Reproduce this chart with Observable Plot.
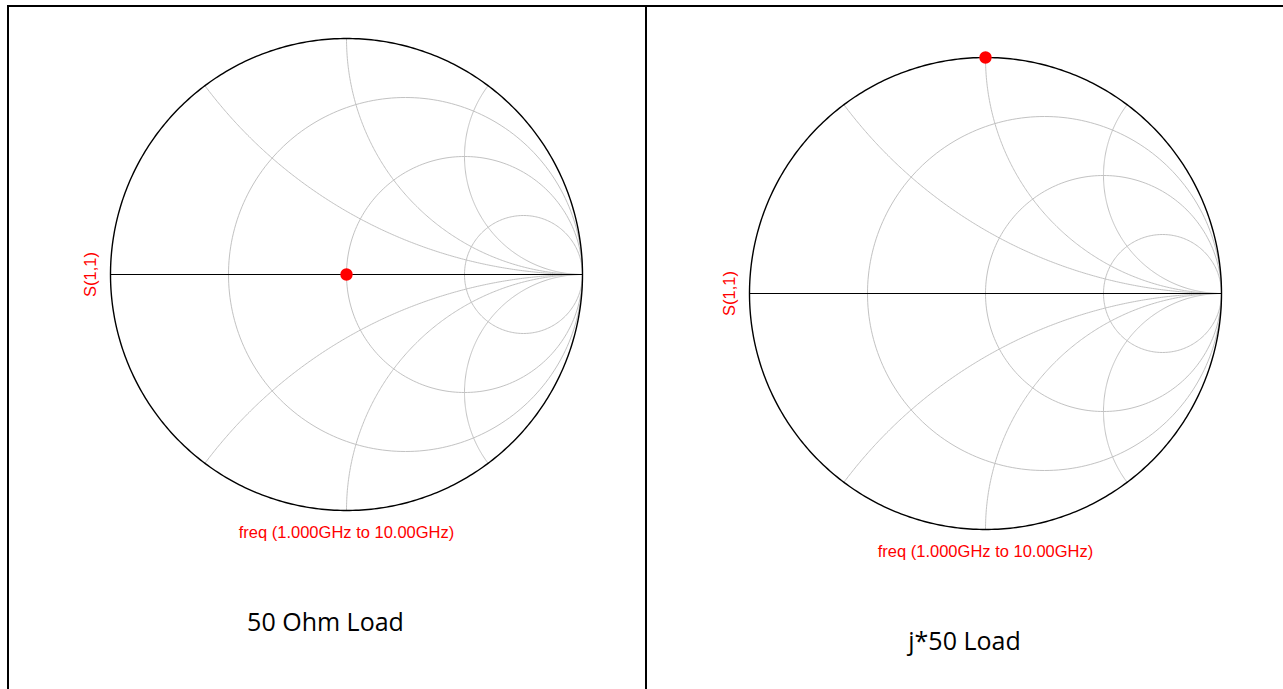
<!DOCTYPE html>
<html>
<head>
<meta charset="utf-8">
<script src="https://cdn.jsdelivr.net/npm/d3@7"></script>
<script src="https://cdn.jsdelivr.net/npm/@observablehq/plot@0.6"></script>
<style>
  html, body { margin: 0; padding: 0; background: #fff; }
  #wrap { position: relative; width: 1283px; height: 689px; overflow: hidden; background: #fff; }
  .panel { position: absolute; top: 0; }
  .rule { position: absolute; background: #000; }
</style>
</head>
<body>
<div id="wrap">
  <div class="rule" style="left:7px;top:5px;width:1276px;height:2px"></div>
  <div class="rule" style="left:7px;top:5px;width:2px;height:684px"></div>
  <div class="rule" style="left:645px;top:5px;width:2px;height:684px"></div>
</div>
<script>
// ---- data ----
const panelTitles = ["50 Ohm Load", "j*50 Load"];
const s11Real = [0, 0];          // reflection coefficient, real part
const s11Imag = [0, 1];          // reflection coefficient, imaginary part
const traceLabel = "S(1,1)";
const sweepLabel = "freq (1.000GHz to 10.00GHz)";
const resistanceCircles = [1/3, 1, 3];   // normalized r of constant-resistance circles
const reactanceArcs = [0.5, 1, 2];       // normalized |x| of constant-reactance arcs

// ---- Smith chart grid geometry (derived from the r / x values) ----
function circlePts(cx, cy, rad, a0, a1, id, n = 240) {
  const pts = [];
  for (let i = 0; i <= n; i++) {
    const a = a0 + (a1 - a0) * i / n;
    pts.push({u: cx + rad * Math.cos(a), v: cy + rad * Math.sin(a), id});
  }
  return pts;
}
const gridPts = [];
resistanceCircles.forEach((r, i) => {
  gridPts.push(...circlePts(r / (r + 1), 0, 1 / (r + 1), 0, 2 * Math.PI, "r" + i));
});
reactanceArcs.forEach((x, i) => {
  [1, -1].forEach(sgn => {
    const gr = (x * x - 1) / (x * x + 1), gi = 2 * x / (x * x + 1);
    let end = Math.atan2(gi - 1 / x, gr - 1);
    if (end > -Math.PI / 2) end -= 2 * Math.PI;
    circlePts(1, 1 / x, 1 / x, -Math.PI / 2, end, "x" + i + sgn).forEach(p => {
      gridPts.push({u: p.u, v: sgn * p.v, id: p.id});
    });
  });
});
const outerPts = circlePts(0, 0, 1, 0, 2 * Math.PI, "outer", 480);

// ---- layout ----
const layouts = [
  {left: 0,   width: 646, ml: 110, mr: 64, mt: 38, mb: 179},
  {left: 646, width: 637, ml: 103, mr: 62, mt: 57, mb: 160}
];

const wrap = document.getElementById("wrap");
layouts.forEach((L, k) => {
  const chart = Plot.plot({
    width: L.width,
    height: 689,
    marginLeft: L.ml, marginRight: L.mr, marginTop: L.mt, marginBottom: L.mb,
    x: {domain: [-1, 1], axis: null},
    y: {domain: [-1, 1], axis: null},
    style: {background: "transparent", overflow: "visible"},
    marks: [
      Plot.line(gridPts, {x: "u", y: "v", z: "id", stroke: "#c2c2c2", strokeWidth: 1}),
      Plot.ruleY([0], {x1: -1, x2: 1, stroke: "#000", strokeWidth: 1.2}),
      Plot.line(outerPts, {x: "u", y: "v", stroke: "#000", strokeWidth: 1.4}),
      Plot.dot([{re: s11Real[k], im: s11Imag[k]}], {x: "re", y: "im", r: 6.2, fill: "#ff0000", stroke: "none"}),
      Plot.text([traceLabel], {x: -1, y: 0, dx: -20, rotate: -90, text: d => d, fill: "#ff0000",
        fontSize: 16.5, fontFamily: "Liberation Sans, Arial, sans-serif"}),
      Plot.text([sweepLabel], {x: 0, y: -1, dy: 22, text: d => d, fill: "#ff0000",
        fontSize: 16.5, fontFamily: "Liberation Sans, Arial, sans-serif"}),
      Plot.text([panelTitles[k]], {x: 0, y: -1, dx: -21, dy: 112, text: d => d, fill: "#000",
        fontSize: 25, fontFamily: "Open Sans, sans-serif"})
    ]
  });
  chart.classList.add("panel");
  chart.style.left = L.left + "px";
  wrap.appendChild(chart);
});
</script>
</body>
</html>
